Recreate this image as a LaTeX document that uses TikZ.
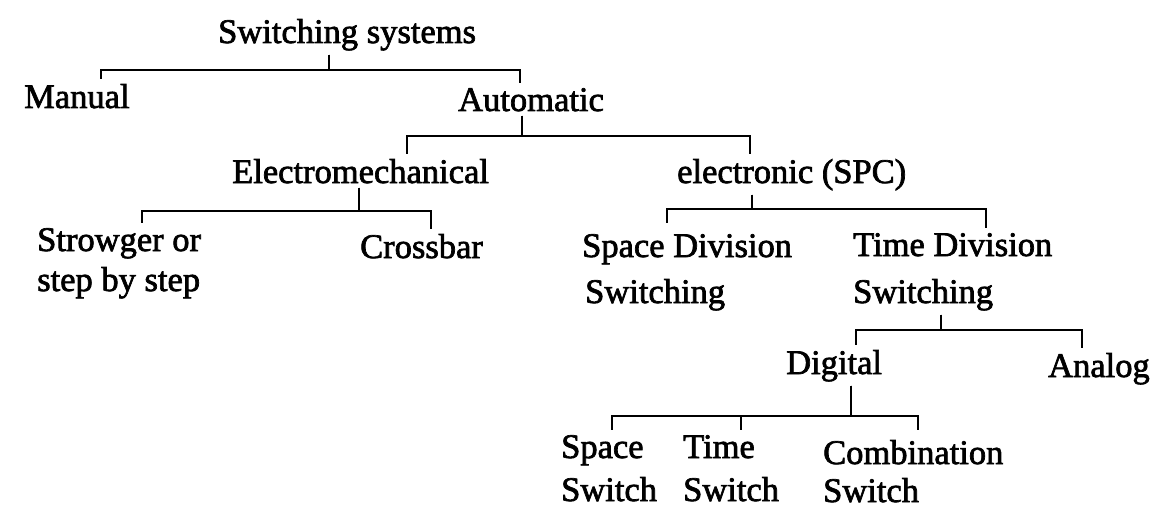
\documentclass[tikz,border=0pt]{standalone}
\usepackage{fontspec}
\setmainfont{Liberation Serif}[FakeBold=2]
\begin{document}
\begin{tikzpicture}[
  x=1pt, y=-1pt,
  lbl/.style={inner sep=0pt, anchor=base west, align=left,
    font=\fontsize{34.5}{40}\selectfont},
  branch/.style={line width=2pt, shorten <=4pt, shorten >=5pt}
]
\useasboundingbox (0,0) rectangle (1156,516);

\node[lbl] (sys) at (218,43) {Switching systems};
\node[lbl] (manual) at (24,108) {Manual};
\node[lbl] (auto) at (458,111) {Automatic};
\node[lbl] (electro) at (232,183) {Electromechanical};
\node[lbl] (spc) at (677,183) {electronic (SPC)};
\node[lbl] (strowger) at (37,291) {Strowger or\\step by step};
\node[lbl] (crossbar) at (360,258) {Crossbar};
\node[lbl] (sdiv) at (582,303) {Space Division\\[6pt]\hspace*{3pt}Switching};
\node[lbl] (tdiv) at (853,303) {Time Division\\[7pt]Switching};
\node[lbl] (digital) at (786,374) {Digital};
\node[lbl] (analog) at (1048,377) {Analog};
\node[lbl] (sspace) at (561,501) {Space\\[3pt]Switch};
\node[lbl] (stime) at (683,501) {Time\\[3pt]Switch};
\node[lbl] (scomb) at (823,502) {Combination\\[-2pt]Switch};

% switching systems
\draw[branch] ([xshift=-17.9pt]sys.south) -- ++(0,19.5) -| ([xshift=24.3pt]manual.north);
\draw[branch] ([xshift=-17.9pt]sys.south) -- ++(0,19.5) -| ([xshift=-10.8pt]auto.north);
% automatic
\draw[branch] ([xshift=-8.8pt]auto.south) -- ++(0,24.6) -| ([xshift=46.6pt]electro.north);
\draw[branch] ([xshift=-8.8pt]auto.south) -- ++(0,24.6) -| ([xshift=-41.5pt]spc.north);
% electromechanical
\draw[branch] ([xshift=-1.4pt]electro.south) -- ++(0,27.6) -| ([xshift=23.1pt]strowger.north);
\draw[branch] ([xshift=-1.4pt]electro.south) -- ++(0,27.6) -| ([xshift=9.7pt]crossbar.north);
% electronic
\draw[branch, shorten >=11pt] ([xshift=-39.5pt]spc.south) -- ++(0,18.9) -| ([xshift=-20pt]sdiv.north);
\draw[branch] ([xshift=-39.5pt]spc.south) -- ++(0,18.9) -| ([xshift=32.9pt]tdiv.north);
% time division
\draw[branch] ([xshift=-12.1pt]tdiv.south) -- ++(0,19.5) -| ([xshift=22.1pt]digital.north);
\draw[branch] ([xshift=-12.1pt]tdiv.south) -- ++(0,19.5) -| ([xshift=-16.8pt]analog.north);
% digital
\draw[branch] ([xshift=17.1pt]digital.south) -- ++(0,34.5) -| ([xshift=3.1pt]sspace.north);
\draw[branch] ([xshift=17.1pt]digital.south) -- ++(0,34.5) -| ([xshift=10.1pt]stime.north);
\draw[branch, shorten >=10pt] ([xshift=17.1pt]digital.south) -- ++(0,34.5) -| ([xshift=4.9pt]scomb.north);
\end{tikzpicture}
\end{document}
